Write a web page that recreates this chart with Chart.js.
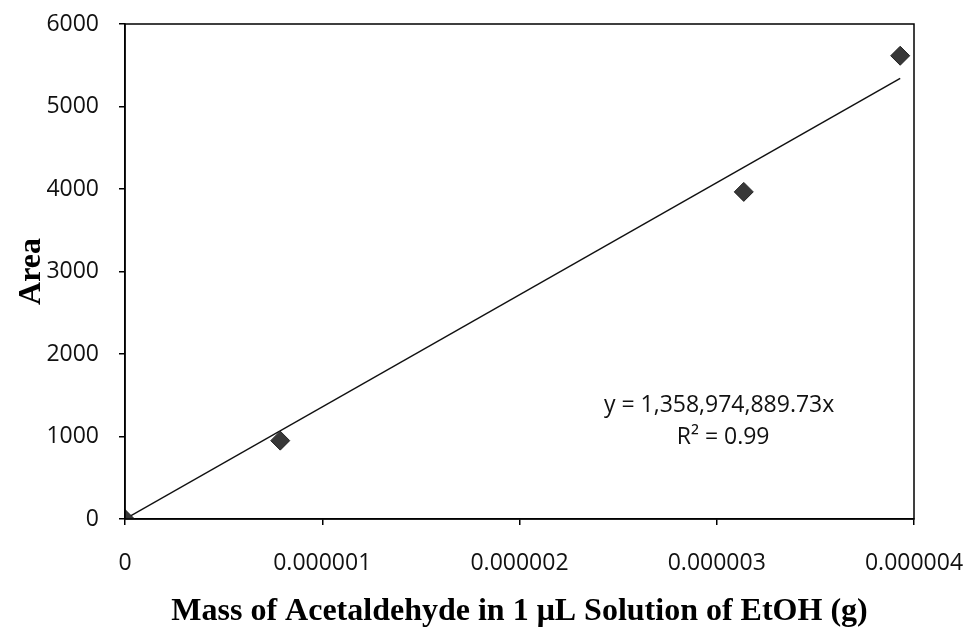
<!DOCTYPE html>
<html>
<head>
<meta charset="utf-8">
<script src="https://cdn.jsdelivr.net/npm/chart.js@4"></script>
<style>
  html, body { margin: 0; padding: 0; background: #fff; }
  #wrap { width: 971px; height: 635px; }
</style>
</head>
<body>
<div id="wrap"><canvas id="calChart" width="971" height="635"></canvas></div>
<script>
// measured points (mass in g, peak area)
const massValues = [0, 0.000000787, 0.000003137, 0.00000393];
const areaValues = [0, 950, 3965, 5615];
const slope = 1358974889.73;
const xTicks = [0, 0.000001, 0.000002, 0.000003, 0.000004];
const yTicks = [0, 1000, 2000, 3000, 4000, 5000, 6000];
const eqLines = ['y = 1,358,974,889.73x', 'R\u00B2 = 0.99'];

const points = massValues.map((m, i) => ({ x: m, y: areaValues[i] }));
const lastX = massValues[massValues.length - 1];
const trend = [{ x: 0, y: 0 }, { x: lastX, y: slope * lastX }];

const tickFont = { family: 'Open Sans', size: 23 };
const titleFont = { family: 'Liberation Serif', size: 32, weight: 'bold' };

// box round plot area + trendline equation
const framePlugin = {
    id: 'frame',
    afterDraw(chart) {
        const { ctx, chartArea: a } = chart;
        ctx.save();
        ctx.strokeStyle = '#000';
        ctx.lineWidth = 1.5;
        ctx.strokeRect(a.left, a.top, a.right - a.left, a.bottom - a.top);
        ctx.fillStyle = '#111';
        ctx.font = '23px "Open Sans"';
        ctx.textAlign = 'center';
        ctx.textBaseline = 'middle';
        const cx = a.left + (a.right - a.left) * 0.753;
        ctx.fillText(eqLines[0], cx, a.top + 381);
        ctx.fillText(eqLines[1], cx + 4, a.top + 413);
        ctx.restore();
    }
};

const ctx = document.getElementById('calChart').getContext('2d');
const calChart = new Chart(ctx, {
    type: 'scatter',
    data: {
        datasets: [{
            label: 'Area',
            data: points,
            pointStyle: 'rectRot',
            pointRadius: 9.5,
            backgroundColor: '#383838',
            borderColor: '#222',
            borderWidth: 1,
            order: 0
        }, {
            label: 'Trend',
            type: 'line',
            data: trend,
            borderColor: '#111',
            borderWidth: 1.5,
            pointRadius: 0,
            fill: false,
            order: 1
        }]
    },
    options: {
        responsive: false,
        animation: false,
        layout: { padding: { top: 24, right: 57, left: 0, bottom: 0 } },
        plugins: {
            legend: { display: false },
            tooltip: { enabled: false }
        },
        scales: {
            x: {
                type: 'linear',
                min: 0,
                max: 0.000004,
                afterBuildTicks: (s) => { s.ticks = xTicks.map(v => ({ value: v })); },
                afterFit: (s) => { s.height = 116; s.paddingLeft = 0; s.paddingRight = 0; },
                ticks: {
                    font: tickFont,
                    color: '#111',
                    padding: 25,
                    maxRotation: 0,
                    callback: (v) => v === 0 ? '0' : v.toFixed(6)
                },
                grid: { drawOnChartArea: false, drawTicks: true, tickLength: 6, color: '#000', lineWidth: 1.5 },
                border: { display: true, color: '#000', width: 1.5 },
                title: {
                    display: true,
                    text: 'Mass of Acetaldehyde in 1 \u03BCL Solution of EtOH (g)',
                    font: titleFont,
                    color: '#000',
                    padding: { top: 0, bottom: 4 }
                }
            },
            y: {
                min: 0,
                max: 6000,
                afterBuildTicks: (s) => { s.ticks = yTicks.map(v => ({ value: v })); },
                afterFit: (s) => { s.width = 125; s.paddingTop = 0; s.paddingBottom = 0; },
                ticks: {
                    font: tickFont,
                    color: '#111',
                    padding: 20,
                    callback: (v) => String(v)
                },
                grid: { drawOnChartArea: false, drawTicks: true, tickLength: 6, color: '#000', lineWidth: 1.5 },
                border: { display: true, color: '#000', width: 1.5 },
                title: {
                    display: true,
                    text: 'Area',
                    font: titleFont,
                    color: '#000',
                    padding: { top: 13, bottom: 0 }
                }
            }
        }
    },
    plugins: [framePlugin]
});
</script>
</body>
</html>
